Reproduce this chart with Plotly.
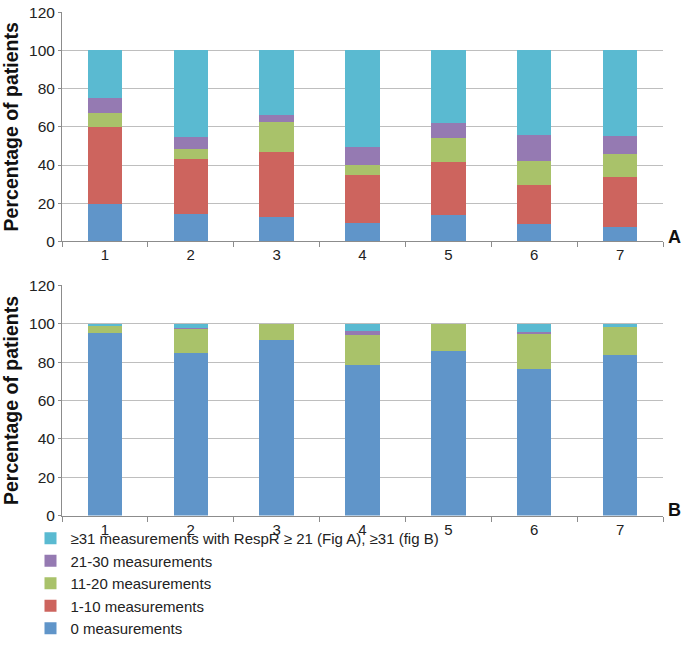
import plotly.graph_objects as go

categories = ["1", "2", "3", "4", "5", "6", "7"]
series_names = [
    "0 measurements",
    "1-10 measurements",
    "11-20 measurements",
    "21-30 measurements",
    "\u226531 measurements with RespR \u2265 21 (Fig A), \u226531 (fig B)",
]
colors = ["#6095C9", "#CD645E", "#A9C26A", "#957AB2", "#5ABAD1"]

# Figure A
a_0 = [19.6, 14.3, 12.7, 9.8, 13.6, 8.9, 7.7]
a_1_10 = [40.4, 28.6, 34.3, 24.8, 27.8, 20.9, 26.2]
a_11_20 = [7.5, 5.7, 15.3, 5.4, 12.7, 12.5, 11.8]
a_21_30 = [7.7, 6.0, 4.1, 9.3, 7.7, 13.6, 9.7]
a_31 = [24.8, 45.4, 33.6, 50.7, 38.2, 44.1, 44.6]

# Figure B
b_0 = [95.4, 84.7, 91.3, 78.7, 85.8, 76.4, 83.5]
b_1_10 = [0, 0, 0, 0, 0, 0, 0]
b_11_20 = [3.4, 12.5, 8.7, 15.4, 14.2, 18.1, 14.7]
b_21_30 = [0, 0.5, 0, 2.3, 0, 1.1, 0]
b_31 = [1.2, 2.3, 0, 3.6, 0, 4.4, 1.8]

series_a = [a_0, a_1_10, a_11_20, a_21_30, a_31]
series_b = [b_0, b_1_10, b_11_20, b_21_30, b_31]

FONT = "Liberation Sans, Arial, sans-serif"

fig = go.Figure()
for i, (name, col) in enumerate(zip(series_names, colors)):
    fig.add_trace(go.Bar(x=categories, y=series_a[i], name=name, marker_color=col,
                         marker_line_width=0, legendgroup=name, showlegend=True,
                         xaxis="x", yaxis="y"))
for i, (name, col) in enumerate(zip(series_names, colors)):
    fig.add_trace(go.Bar(x=categories, y=series_b[i], name=name, marker_color=col,
                         marker_line_width=0, legendgroup=name, showlegend=False,
                         xaxis="x2", yaxis="y2"))

W, H = 685, 645
VSCALE = 0.9776  # observed vertical compression of the rendered page


def px_x(p):
    return p / W


def px_y(p):
    return 1 - (p / VSCALE) / H


xdom = [px_x(62), px_x(663)]
ydom_a = [px_y(236), px_y(12)]
ydom_b = [px_y(504), px_y(279)]

xaxis_common = dict(type="category", showline=True, linecolor="#8C8C8C", linewidth=1,
                    ticks="outside", tickson="boundaries", ticklen=5, tickcolor="#8C8C8C",
                    showgrid=False, tickfont=dict(family=FONT, size=15, color="#222"),
                    domain=xdom, automargin=False)
yaxis_common = dict(range=[0, 120], dtick=20, showline=True, linecolor="#8C8C8C", linewidth=1,
                    showgrid=True, gridcolor="#BEBEBE", gridwidth=1, ticks="outside",
                    ticklen=3, tickcolor="#8C8C8C", zeroline=False, automargin=False,
                    tickfont=dict(family=FONT, size=15.5, color="#222"),
                    title=dict(text="<b>Percentage of patients</b>",
                               font=dict(family=FONT, size=19.5, color="#111"), standoff=6))

fig.update_layout(
    width=W, height=H, autosize=False,
    margin=dict(l=0, r=0, t=0, b=0),
    paper_bgcolor="white", plot_bgcolor="white",
    barmode="stack", bargap=0.6,
    xaxis=dict(anchor="y", **xaxis_common),
    yaxis=dict(anchor="x", domain=ydom_a, **yaxis_common),
    xaxis2=dict(anchor="y2", **xaxis_common),
    yaxis2=dict(anchor="x2", domain=ydom_b, **yaxis_common),
    legend=dict(x=px_x(30.5), y=0, xanchor="left", yanchor="bottom",
                traceorder="reversed", font=dict(family=FONT, size=15, color="#222"),
                itemwidth=30, tracegroupgap=0, bgcolor="rgba(0,0,0,0)"),
    annotations=[
        dict(text="<b>A</b>", x=px_x(683), y=px_y(232), xref="paper", yref="paper",
             showarrow=False, xanchor="right", yanchor="middle",
             font=dict(family=FONT, size=18, color="#111")),
        dict(text="<b>B</b>", x=px_x(683), y=px_y(499), xref="paper", yref="paper",
             showarrow=False, xanchor="right", yanchor="middle",
             font=dict(family=FONT, size=18, color="#111")),
    ],
)

# remove the default page margin so the 685x645 figure fills the window exactly
fig.write_html("out.html",
               config={"responsive": False, "displayModeBar": False},
               post_script="document.body.style.margin='0';document.body.style.overflow='hidden';")
